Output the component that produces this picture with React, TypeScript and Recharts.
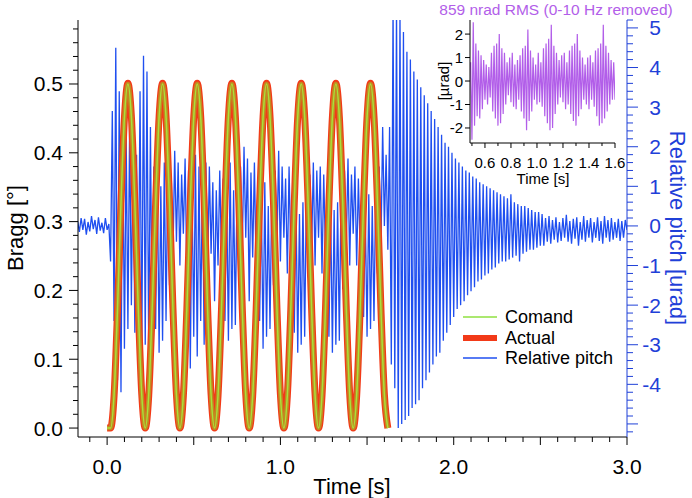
import React from 'react';
import { LineChart, Line, XAxis, YAxis } from 'recharts';

const FONT = '"Liberation Sans", Arial, Helvetica, sans-serif';
const BLUE = '#1f4ff0';
const AXIS_BLUE = '#1f40d8';
const PURPLE = '#b25ee9';

// Bragg angle [deg], one sample every 20 ms starting at t = 0 s
const braggStart = 0;
const braggStep = 0.02;
const commandDeg = [
  0,
  0, 0.048, 0.173, 0.327, 0.452, 0.5, 0.452, 0.327, 0.173, 0.048,
  0, 0.048, 0.173, 0.327, 0.452, 0.5, 0.452, 0.327, 0.173, 0.048,
  0, 0.048, 0.173, 0.327, 0.452, 0.5, 0.452, 0.327, 0.173, 0.048,
  0, 0.048, 0.173, 0.327, 0.452, 0.5, 0.452, 0.327, 0.173, 0.048,
  0, 0.048, 0.173, 0.327, 0.452, 0.5, 0.452, 0.327, 0.173, 0.048,
  0, 0.048, 0.173, 0.327, 0.452, 0.5, 0.452, 0.327, 0.173, 0.048,
  0, 0.048, 0.173, 0.327, 0.452, 0.5, 0.452, 0.327, 0.173, 0.048,
  0, 0.048, 0.173, 0.327, 0.452, 0.5, 0.452, 0.327, 0.173, 0.048,
  0,
];
const actualDeg = [
  0,
  0, 0.046, 0.171, 0.326, 0.451, 0.501, 0.453, 0.328, 0.174, 0.049,
  0, 0.047, 0.172, 0.327, 0.452, 0.501, 0.453, 0.328, 0.174, 0.049,
  0, 0.047, 0.172, 0.327, 0.452, 0.501, 0.453, 0.328, 0.174, 0.049,
  0, 0.047, 0.172, 0.327, 0.452, 0.501, 0.453, 0.328, 0.174, 0.049,
  0, 0.047, 0.172, 0.327, 0.452, 0.501, 0.453, 0.328, 0.174, 0.049,
  0, 0.047, 0.172, 0.327, 0.452, 0.501, 0.453, 0.328, 0.174, 0.049,
  0, 0.047, 0.172, 0.327, 0.452, 0.501, 0.453, 0.328, 0.174, 0.049,
  0, 0.047, 0.172, 0.327, 0.452, 0.501, 0.453, 0.328, 0.174, 0.049,
  0,
];

// relative pitch [urad], one sample every 10 ms starting at t = -0.17 s
const pitchStart = -0.17;
const pitchStep = 0.01;
const pitchUrad = [
  0.12, -0.15, 0.2, -0.1, 0.18, -0.22, 0.1, -0.14, 0.25, -0.08,
  0.15, -0.2, 0.22, -0.12, 0.08, -0.18, 0.2, -0.1, 0.05, -0.9,
  2.9, -2.4, 4.5, -3.9, 3.4, -4.2, 2.7, -3.1, 2.3, -2.6,
  2.6, -2.0, 2.1, -2.7, 1.8, -2.4, 3.4, -3.4, 4.3, -3.0,
  3.9, -3.2, 2.5, -2.8, 1.5, -2.6, 1.3, -3.2, 1.0, -2.9,
  1.6, -2.4, 1.4, -1.5, 1.3, -0.8, 1.9, -0.4, 1.6, -1.0,
  1.3, -0.2, 1.7, -1.2, 1.4, -3.6, 1.0, -2.8, 1.8, -3.3,
  1.5, -2.4, 1.2, -3.0, 1.6, -1.2, 1.5, -0.7, 1.1, -1.9,
  0.9, -1.0, 1.4, -0.8, 1.2, -2.4, 0.8, -2.9, 1.6, -2.6,
  0.9, -2.5, 1.1, -1.4, 1.5, -0.6, 2.0, -0.3, 1.7, -1.9,
  1.35, -0.8, 1.6, -1.2, 0.9, -2.4, 0.7, -3.1, 1.1, -2.8,
  0.5, -2.6, 0.8, -1.5, 1.4, -0.5, 1.9, -0.9, 1.5, -0.3,
  1.2, -1.2, 1.5, -0.8, 0.5, -2.7, 0.6, -3.2, 0.3, -3.0,
  0.6, -2.8, 0.9, -1.3, 1.3, -0.6, 1.6, -1.0, 1.4, -0.3,
  1.5, -1.2, 1.3, -0.7, 0.7, -2.8, 0.5, -3.2, 0.4, -3.0,
  0.6, -2.9, 0.9, -1.6, 1.4, -0.5, 1.7, -1.0, 1.3, -0.2,
  1.5, -1.0, 1.2, -0.6, 0.6, -2.3, 0.3, -2.8, 0.8, -2.6,
  0.5, -2.4, 1.0, -1.2, 1.5, -0.6, 2.5, 0.0, 1.8, -0.6,
  2.5, -3.5, 5.6, -4.1, 5.6, -5.1, 5.4, -5.0, 4.9, -4.9,
  4.4, -4.8, 4.2, -4.6, 3.9, -4.5, 3.7, -4.4, 3.5, -4.1,
  3.3, -3.9, 3.1, -3.7, 2.9, -3.5, 2.7, -3.3, 2.5, -3.2,
  2.3, -2.9, 2.1, -2.7, 2.0, -2.5, 1.85, -2.3, 1.7, -2.1,
  1.6, -2.0, 1.5, -1.9, 1.4, -1.75, 1.35, -1.65, 1.25, -1.55,
  1.2, -1.4, 1.1, -1.35, 1.05, -1.25, 1.0, -1.2, 0.95, -1.1,
  0.9, -1.05, 0.85, -0.95, 0.8, -0.9, 0.75, -0.9, 0.7, -0.85,
  0.8, -0.8, 0.6, -0.75, 0.55, -0.9, 0.5, -0.7, 0.5, -0.65,
  0.45, -0.6, 0.4, -0.6, 0.35, -0.55, 0.35, -0.5, 0.3, -0.5,
  0.2, -0.4, 0.25, -0.45, 0.15, -0.35, 0.22, -0.42, 0.1, -0.38,
  0.2, -0.3, 0.28, -0.4, 0.12, -0.45, 0.18, -0.32, 0.22, -0.5,
  0.1, -0.35, 0.25, -0.4, 0.15, -0.3, 0.2, -0.42, 0.1, -0.3,
  0.22, -0.38, 0.12, -0.45, 0.25, -0.3, 0.15, -0.4, 0.2, -0.35,
  0.1, -0.3, 0.18, -0.38, 0.12, -0.3, 0.15, -0.1,
];

// inset: pitch with 0-10 Hz removed [urad], every 10 ms from t = 0.49 s
const insetStart = 0.49;
const insetStep = 0.01;
const insetUrad = [
  0.8, -2.5, 2.5, -1.9, 1.6, -1.5, 1.3, -1.6, 1.1, -1.2,
  0.9, -0.8, 0.7, -1.0, 0.6, -0.7, 1.2, -1.3, 1.5, -1.6,
  1.6, -1.9, 2.0, -1.8, 1.4, -1.4, 1.2, -1.0, 0.8, -0.6,
  1.0, -0.9, 1.2, -1.1, 0.7, -1.2, 0.9, -0.8, 1.1, -1.3,
  1.4, -1.6, 1.5, -2.1, 2.2, -1.7, 1.3, -1.3, 1.0, -0.8,
  0.7, -1.0, 1.2, -0.9, 0.8, -1.1, 1.4, -1.5, 1.6, -1.8,
  1.8, -2.1, 2.4, -2.0, 1.5, -1.4, 1.2, -1.0, 0.9, -0.7,
  1.1, -0.9, 1.2, -1.2, 0.8, -1.0, 1.3, -1.4, 1.5, -1.7,
  1.6, -1.9, 2.0, -1.5, 1.3, -1.2, 1.0, -0.8, 0.7, -1.0,
  1.0, -1.2, 1.1, -0.8, 0.8, -1.1, 1.3, -1.5, 1.4, -1.9,
  1.6, -1.8, 2.4, -1.6, 1.5, -1.3, 1.2, -1.0, 0.9, -0.8,
  0.8, -0.8,
];

const timeLabels = [0, 1, 2, 3];
const braggLabels = [0, 0.1, 0.2, 0.3, 0.4, 0.5];
const pitchLabels = [-4, -3, -2, -1, 0, 1, 2, 3, 4, 5];
const insetTimeLabels = [0.6, 0.8, 1.0, 1.2, 1.4, 1.6];
const insetPitchLabels = [-2, -1, 0, 1, 2];

const toRows = (start: number, step: number, values: number[]) =>
  values.map((v, i) => ({ t: Math.round((start + i * step) * 1000) / 1000, v }));

const steps = (from: number, to: number, step: number) => {
  const out: number[] = [];
  const n = Math.round((to - from) / step);
  for (let i = 0; i <= n; i++) out.push(Math.round((from + i * step) * 1000) / 1000);
  return out;
};

const isIn = (list: number[], v: number) => list.some((l) => Math.abs(l - v) < 1e-6);

const commandData = toRows(braggStart, braggStep, commandDeg);
const actualData = toRows(braggStart, braggStep, actualDeg);
const pitchData = toRows(pitchStart, pitchStep, pitchUrad);
const insetData = toRows(insetStart, insetStep, insetUrad);

const BraggTick = (props: any) => {
  const { x, y, payload } = props;
  const v = payload.value;
  const major = isIn(braggLabels, v);
  return (
    <g>
      <line x1={x} x2={x - (major ? 9 : 5)} y1={y} y2={y} stroke="#000" />
      {major && (
        <text x={x - 15} y={y} textAnchor="end" dominantBaseline="central" fontSize={21} fontFamily={FONT} fill="#000">
          {v.toFixed(1)}
        </text>
      )}
    </g>
  );
};

const PitchTick = (props: any) => {
  const { x, y, payload } = props;
  const v = payload.value;
  const major = Math.abs(v - Math.round(v)) < 1e-6;
  return (
    <g>
      <line x1={x} x2={x + (major ? 11 : 6)} y1={y} y2={y} stroke={AXIS_BLUE} />
      {isIn(pitchLabels, v) && (
        <text x={x + 34} y={y} textAnchor="end" dominantBaseline="central" fontSize={21} fontFamily={FONT} fill={AXIS_BLUE}>
          {v}
        </text>
      )}
    </g>
  );
};

const TimeTick = (props: any) => {
  const { x, y, payload } = props;
  const v = payload.value;
  const major = Math.abs(v * 2 - Math.round(v * 2)) < 1e-6;
  return (
    <g>
      <line x1={x} x2={x} y1={y} y2={y + (major ? 8 : 5)} stroke="#000" />
      {isIn(timeLabels, v) && (
        <text x={x} y={y + 29} textAnchor="middle" dominantBaseline="central" fontSize={21} fontFamily={FONT} fill="#000">
          {v.toFixed(1)}
        </text>
      )}
    </g>
  );
};

const InsetYTick = (props: any) => {
  const { x, y, payload } = props;
  return (
    <g>
      <line x1={x} x2={x - 5} y1={y} y2={y} stroke="#000" />
      <text x={x - 7} y={y} textAnchor="end" dominantBaseline="central" fontSize={15} fontFamily={FONT} fill="#000">
        {payload.value}
      </text>
    </g>
  );
};

const InsetXTick = (props: any) => {
  const { x, y, payload } = props;
  const v = payload.value;
  const major = isIn(insetTimeLabels, v);
  return (
    <g>
      <line x1={x} x2={x} y1={y} y2={y + (major ? 5 : 3)} stroke="#000" />
      {major && (
        <text x={x} y={y + 19} textAnchor="middle" dominantBaseline="central" fontSize={15} fontFamily={FONT} fill="#000">
          {v.toFixed(1)}
        </text>
      )}
    </g>
  );
};

const rotated = (left: number, top: number, angle: number, size: number, color: string): React.CSSProperties => ({
  position: 'absolute',
  left,
  top,
  transform: `translate(-50%, -50%) rotate(${angle}deg)`,
  whiteSpace: 'nowrap',
  fontSize: size,
  fontFamily: FONT,
  color,
  lineHeight: 1,
});

export default function App() {
  return (
    <div style={{ position: 'absolute', left: 0, top: 0, width: 692, height: 498, background: '#fff', overflow: 'hidden' }}>
      <LineChart width={692} height={498} margin={{ top: 20, right: 0, left: 0, bottom: 0 }}>
        <XAxis
          dataKey="t"
          type="number"
          domain={[-0.168, 3.0]}
          allowDataOverflow
          ticks={steps(-0.1, 3.0, 0.1)}
          interval={0}
          tick={<TimeTick />}
          tickLine={false}
          tickSize={0}
          tickMargin={0}
          height={61}
          stroke="#000"
        />
        <YAxis
          yAxisId="bragg"
          orientation="left"
          type="number"
          domain={[-0.013, 0.593]}
          allowDataOverflow
          ticks={steps(0, 0.58, 0.02)}
          interval={0}
          tick={<BraggTick />}
          tickLine={false}
          tickSize={0}
          tickMargin={0}
          width={78}
          stroke="#000"
        />
        <YAxis
          yAxisId="pitch"
          orientation="right"
          type="number"
          domain={[-5.33, 5.2]}
          allowDataOverflow
          ticks={steps(-5.2, 5.2, 0.2)}
          interval={0}
          tick={<PitchTick />}
          tickLine={false}
          tickSize={0}
          tickMargin={0}
          width={65}
          stroke={AXIS_BLUE}
        />
        <Line yAxisId="pitch" data={pitchData} dataKey="v" type="linear" stroke={BLUE} strokeWidth={1.3} dot={false} isAnimationActive={false} />
        <Line yAxisId="bragg" data={actualData} dataKey="v" type="monotone" stroke="#f23a18" strokeWidth={7} dot={false} isAnimationActive={false} />
        <Line yAxisId="bragg" data={commandData} dataKey="v" type="monotone" stroke="#9cc828" strokeOpacity={0.55} strokeWidth={4.5} dot={false} isAnimationActive={false} />
        <Line yAxisId="bragg" data={commandData} dataKey="v" type="monotone" stroke="#a8e23a" strokeWidth={1.5} dot={false} isAnimationActive={false} />
      </LineChart>

      <div style={{ position: 'absolute', left: 400, top: 0 }}>
        <LineChart width={240} height={190} margin={{ top: 20, right: 25, left: 0, bottom: 0 }}>
          <XAxis
            dataKey="t"
            type="number"
            domain={[0.485, 1.6]}
            allowDataOverflow
            ticks={steps(0.5, 1.6, 0.1)}
            interval={0}
            tick={<InsetXTick />}
            tickLine={false}
            tickSize={0}
            tickMargin={0}
            height={47}
            stroke="#000"
          />
          <YAxis
            type="number"
            domain={[-2.64, 2.6]}
            allowDataOverflow
            ticks={insetPitchLabels}
            interval={0}
            tick={<InsetYTick />}
            tickLine={false}
            tickSize={0}
            tickMargin={0}
            width={70}
            stroke="#000"
          />
          <Line data={insetData} dataKey="v" type="linear" stroke={PURPLE} strokeWidth={1.2} dot={false} isAnimationActive={false} />
        </LineChart>
      </div>

      <svg width={692} height={498} style={{ position: 'absolute', left: 0, top: 0, pointerEvents: 'none' }}>
        <g fontFamily={FONT} fontSize={18} fill="#000">
          <line x1={463} x2={497} y1={317} y2={317} stroke="#8fe040" strokeWidth={1.5} />
          <text x={505} y={317} dominantBaseline="central">Comand</text>
          <line x1={463} x2={497} y1={338} y2={338} stroke="#f23a18" strokeWidth={6} />
          <text x={505} y={338} dominantBaseline="central">Actual</text>
          <line x1={463} x2={497} y1={358} y2={358} stroke={BLUE} strokeWidth={1.5} />
          <text x={505} y={358} dominantBaseline="central">Relative pitch</text>
        </g>
      </svg>

      <div style={rotated(16, 228, -90, 22, '#000')}>Bragg [°]</div>
      <div style={rotated(677, 228, 90, 22, AXIS_BLUE)}>Relative pitch [urad]</div>
      <div style={rotated(352, 487, 0, 22, '#000')}>Time [s]</div>
      <div style={rotated(556, 10, 0, 15.5, PURPLE)}>859 nrad RMS (0-10 Hz removed)</div>
      <div style={rotated(443, 81, -90, 15, '#000')}>[µrad]</div>
      <div style={rotated(543, 178, 0, 15, '#000')}>Time [s]</div>
    </div>
  );
}
